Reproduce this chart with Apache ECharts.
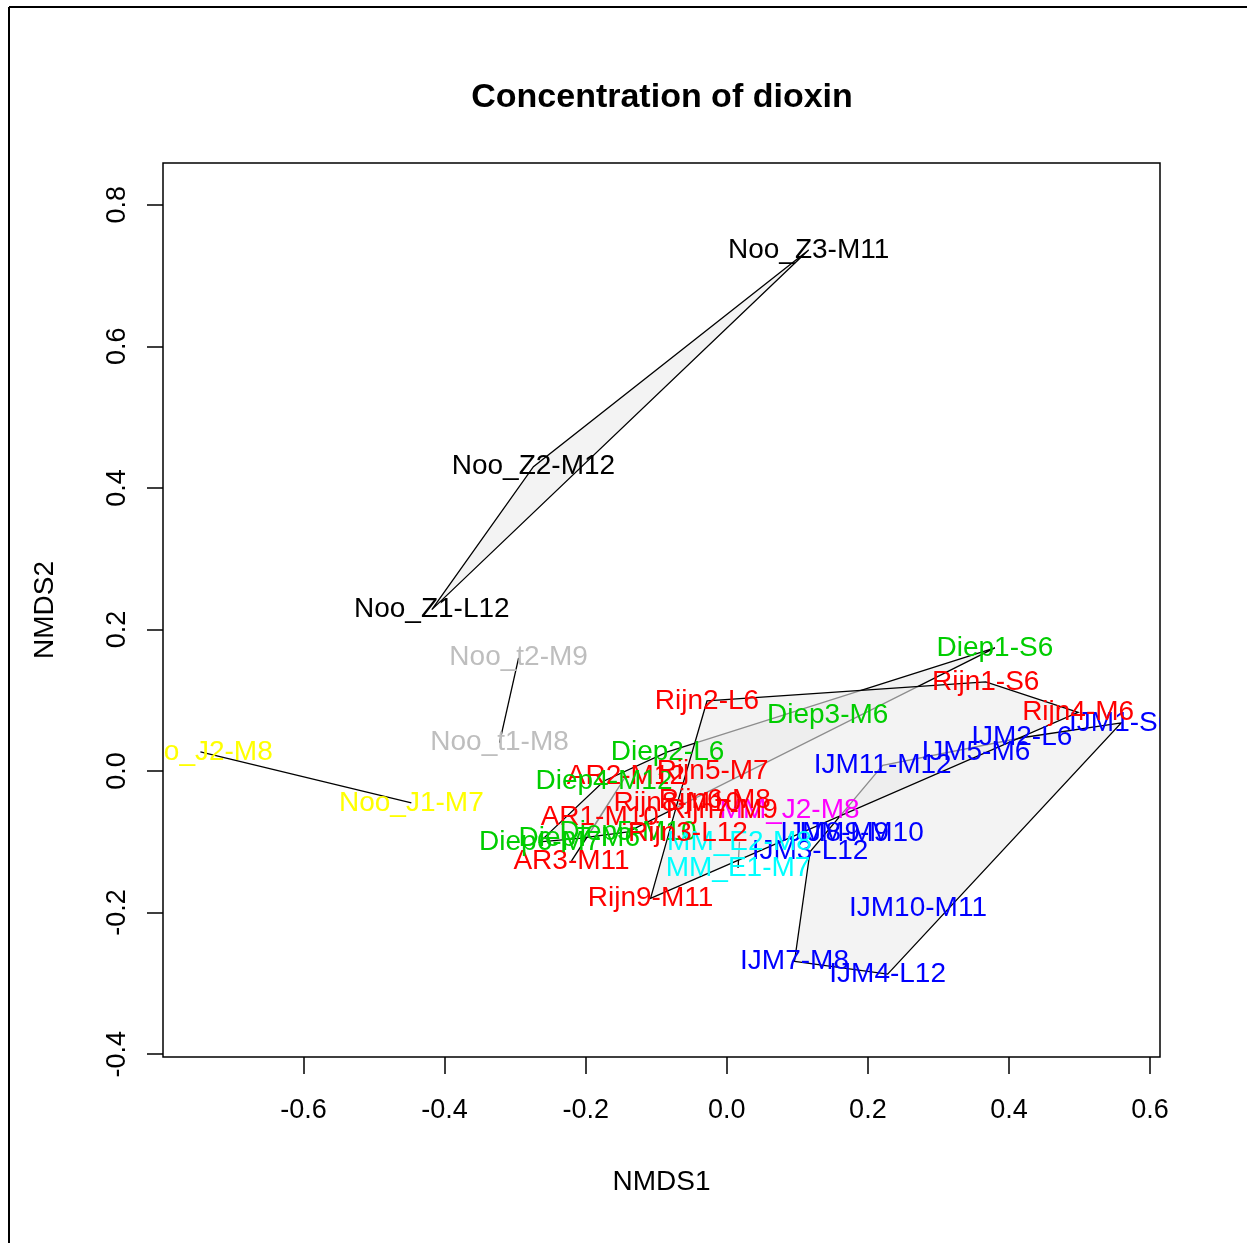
<!DOCTYPE html>
<html>
<head>
<meta charset="utf-8">
<script src="https://cdn.jsdelivr.net/npm/echarts@6/dist/echarts.min.js"></script>
<style>
  html, body { margin: 0; padding: 0; background: #ffffff; }
  #chart { width: 1247px; height: 1243px; }
</style>
</head>
<body>
<div id="chart"></div>
<script>
// NMDS site scores for the dioxin samples
const sampleNames = [
  'AR1-M10', 'AR2-M12', 'AR3-M11',
  'Diep1-S6', 'Diep2-L6', 'Diep3-M6', 'Diep4-M12', 'Diep5-M10', 'Diep6-M7', 'Diep7-M6',
  'IJM1-S6', 'IJM2-L6', 'IJM3-L12', 'IJM4-L12', 'IJM5-M6', 'IJM7-M8', 'IJM8-M9', 'IJM9-M10', 'IJM10-M11', 'IJM11-M12',
  'MM_E1-M7', 'MM_E2-M8', 'MM_J2-M8',
  'Noo_J1-M7', 'Noo_J2-M8',
  'Noo_t1-M8', 'Noo_t2-M9',
  'Noo_Z1-L12', 'Noo_Z2-M12', 'Noo_Z3-M11',
  'Rijn1-S6', 'Rijn2-L6', 'Rijn3-L12', 'Rijn4-M6', 'Rijn5-M7', 'Rijn6-M8', 'Rijn7-M9', 'Rijn8-M10', 'Rijn9-M11'
];
const nmds1 = [
  -0.180, -0.143, -0.220,
  0.380, -0.084, 0.143, -0.174, -0.140, -0.265, -0.209,
  0.559, 0.418, 0.118, 0.228, 0.353, 0.096, 0.153, 0.191, 0.271, 0.221,
  0.016, 0.018, 0.089,
  -0.447, -0.746,
  -0.322, -0.295,
  -0.418, -0.274, 0.116,
  0.367, -0.028, -0.055, 0.498, -0.020, -0.017, -0.007, -0.070, -0.108
];
const nmds2 = [
  -0.066, -0.007, -0.127,
  0.174, 0.027, 0.079, -0.014, -0.086, -0.100, -0.095,
  0.068, 0.047, -0.114, -0.287, 0.027, -0.269, -0.088, -0.088, -0.194, 0.008,
  -0.137, -0.100, -0.055,
  -0.045, 0.027,
  0.040, 0.160,
  0.228, 0.430, 0.736,
  0.126, 0.099, -0.088, 0.083, -0.001, -0.041, -0.055, -0.045, -0.180
];
const sampleGroups = [
  'AR', 'AR', 'AR',
  'Diep', 'Diep', 'Diep', 'Diep', 'Diep', 'Diep', 'Diep',
  'IJM', 'IJM', 'IJM', 'IJM', 'IJM', 'IJM', 'IJM', 'IJM', 'IJM', 'IJM',
  'MM_E', 'MM_E', 'MM_J',
  'Noo_J', 'Noo_J',
  'Noo_t', 'Noo_t',
  'Noo_Z', 'Noo_Z', 'Noo_Z',
  'Rijn', 'Rijn', 'Rijn', 'Rijn', 'Rijn', 'Rijn', 'Rijn', 'Rijn', 'Rijn'
];
const groupLevels = ['AR', 'Diep', 'IJM', 'MM_E', 'MM_J', 'Noo_J', 'Noo_t', 'Noo_Z', 'Rijn'];
const groupColors = ['#FF0000', '#00CD00', '#0000FF', '#00FFFF', '#FF00FF', '#FFFF00', '#BEBEBE', '#000000', '#FF0000'];
const xTicks = [-0.6, -0.4, -0.2, 0.0, 0.2, 0.4, 0.6];
const yTicks = [-0.4, -0.2, 0.0, 0.2, 0.4, 0.6, 0.8];

const FONT = '"Liberation Sans", Arial, sans-serif';

// convex hull (monotone chain) of a group's sample scores
function convexHull(points) {
  const p = points.slice().sort((a, b) => a[0] - b[0] || a[1] - b[1]);
  if (p.length < 3) return p;
  const cross = (o, a, b) => (a[0] - o[0]) * (b[1] - o[1]) - (a[1] - o[1]) * (b[0] - o[0]);
  const lower = [];
  for (const q of p) {
    while (lower.length >= 2 && cross(lower[lower.length - 2], lower[lower.length - 1], q) <= 0) lower.pop();
    lower.push(q);
  }
  const upper = [];
  for (let i = p.length - 1; i >= 0; i--) {
    const q = p[i];
    while (upper.length >= 2 && cross(upper[upper.length - 2], upper[upper.length - 1], q) <= 0) upper.pop();
    upper.push(q);
  }
  lower.pop();
  upper.pop();
  return lower.concat(upper);
}

const hulls = groupLevels.map(g => {
  const pts = [];
  sampleNames.forEach((_, i) => { if (sampleGroups[i] === g) pts.push([nmds1[i], nmds2[i]]); });
  return convexHull(pts);
});

const chart = echarts.init(document.getElementById('chart'), null, { renderer: 'canvas' });

const option = {
  animation: false,
  backgroundColor: '#ffffff',
  grid: {
    left: 163, top: 163, width: 997, height: 894,
    show: true, borderColor: '#000000', borderWidth: 1.5, backgroundColor: 'transparent'
  },
  xAxis: {
    type: 'value', min: -0.799, max: 0.614,
    axisLine: { show: false, onZero: false },
    splitLine: { show: false },
    axisTick: { show: true, inside: false, length: 17, lineStyle: { color: '#000', width: 1.5 }, customValues: xTicks },
    axisLabel: { customValues: xTicks, formatter: v => v.toFixed(1), color: '#000', fontSize: 27, fontFamily: FONT, margin: 40 },
    name: 'NMDS1', nameLocation: 'middle', nameGap: 111,
    nameTextStyle: { color: '#000', fontSize: 28, fontFamily: FONT }
  },
  yAxis: {
    type: 'value', min: -0.404, max: 0.859,
    axisLine: { show: false, onZero: false },
    splitLine: { show: false },
    axisTick: { show: true, inside: false, length: 16, lineStyle: { color: '#000', width: 1.5 }, customValues: yTicks },
    axisLabel: { customValues: yTicks, formatter: v => v.toFixed(1), color: '#000', fontSize: 27, fontFamily: FONT, margin: 32, rotate: 90 },
    name: 'NMDS2', nameLocation: 'middle', nameGap: 104, nameRotate: 90,
    nameTextStyle: { color: '#000', fontSize: 28, fontFamily: FONT }
  },
  graphic: [
    { type: 'line', shape: { x1: 9, y1: 7, x2: 9, y2: 1243 }, style: { stroke: '#000', lineWidth: 2 } },
    { type: 'line', shape: { x1: 9, y1: 7, x2: 1247, y2: 7 }, style: { stroke: '#000', lineWidth: 2 } },
    {
      type: 'text', x: 662, y: 98,
      style: { text: 'Concentration of dioxin', font: 'bold 34px ' + FONT, fill: '#000', align: 'center', verticalAlign: 'middle' }
    }
  ],
  series: [
    {
      // group hulls, drawn in level order so later fills veil earlier outlines
      type: 'custom',
      coordinateSystem: 'cartesian2d',
      clip: true,
      z: 2,
      data: groupLevels.map((g, i) => [i]),
      renderItem: function (params, api) {
        const hull = hulls[params.dataIndex];
        if (hull.length < 2) return null;
        const pts = hull.map(p => api.coord(p));
        if (pts.length === 2) {
          return { type: 'polyline', shape: { points: pts }, style: { stroke: '#000', lineWidth: 1.3, fill: null } };
        }
        return {
          type: 'polygon',
          shape: { points: pts },
          style: { fill: 'rgba(235,235,235,0.6)', stroke: '#000', lineWidth: 1.3 }
        };
      }
    },
    {
      // sample labels centred on their scores
      type: 'custom',
      coordinateSystem: 'cartesian2d',
      clip: true,
      z: 3,
      data: sampleNames.map((n, i) => [nmds1[i], nmds2[i]]),
      renderItem: function (params, api) {
        const i = params.dataIndex;
        const pt = api.coord([api.value(0), api.value(1)]);
        const color = groupColors[groupLevels.indexOf(sampleGroups[i])];
        return {
          type: 'text', x: pt[0], y: pt[1],
          style: { text: sampleNames[i], font: '28px ' + FONT, fill: color, align: 'center', verticalAlign: 'middle' }
        };
      }
    }
  ]
};

chart.setOption(option);
</script>
</body>
</html>
